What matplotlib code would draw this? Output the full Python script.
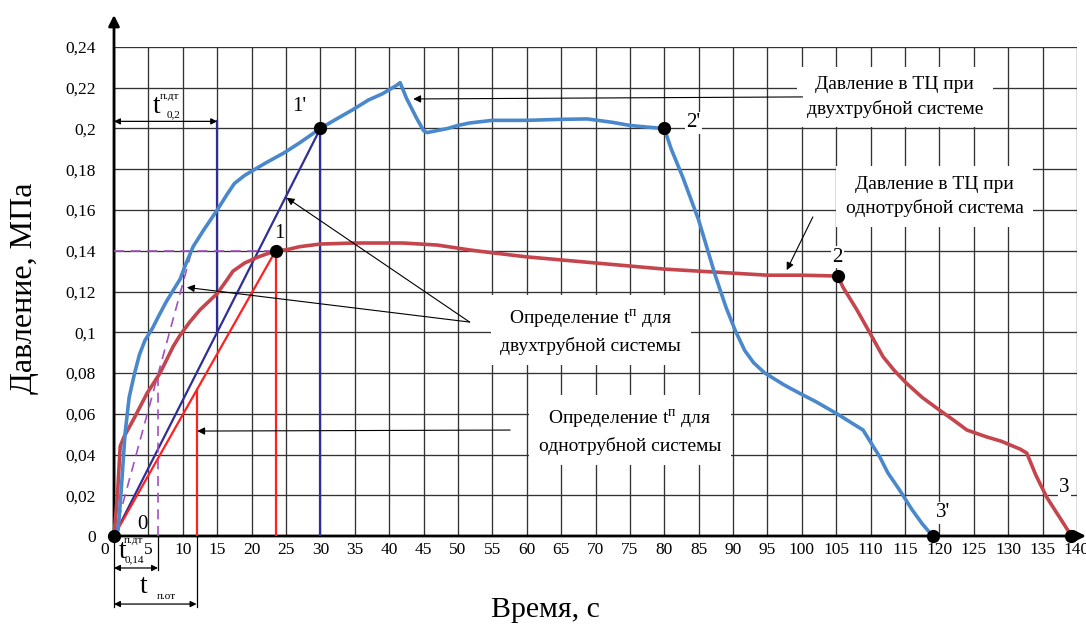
import matplotlib
matplotlib.use("Agg")
import matplotlib.pyplot as plt
from matplotlib.transforms import ScaledTranslation

plt.rcParams['font.family'] = ['Liberation Serif', 'DejaVu Serif']

# ---------------- data ----------------
# two-pipe system pressure (blue)
t_two = [0, 0.6, 1.0, 1.6, 2.2, 3.0, 3.7, 4.5, 5.6, 6.5, 7.6, 8.5, 9.6, 10.5, 11.5,
         13.0, 15.0, 16.5, 17.5, 19.0, 20.0, 22.0, 24.7, 27.0, 30.0, 32.0, 34.6, 37.0,
         39.0, 41.0, 41.6, 42.5, 44.0, 45.0, 45.5, 47.0, 48.5, 50.0, 51.7, 55.0, 60.0,
         65.0, 68.8, 72.5, 75.0, 77.5, 80.0, 81.0, 82.7, 85.0, 87.4, 89.0, 90.3, 91.7,
         93.0, 94.6, 97.5, 99.7, 102.0, 105.1, 107.0, 108.9, 110.0, 111.3, 112.5, 114.2,
         116.0, 117.5, 119.0]
p_two = [0, 0.003, 0.02, 0.05, 0.068, 0.080, 0.089, 0.096, 0.102, 0.108, 0.115, 0.120,
         0.126, 0.134, 0.142, 0.150, 0.160, 0.168, 0.173, 0.177, 0.179, 0.183, 0.188,
         0.193, 0.200, 0.204, 0.209, 0.214, 0.217, 0.221, 0.2225, 0.215, 0.205, 0.199,
         0.198, 0.199, 0.200, 0.2015, 0.2027, 0.204, 0.204, 0.2045, 0.2047, 0.203, 0.2015,
         0.2007, 0.200, 0.190, 0.176, 0.155, 0.128, 0.112, 0.101, 0.091, 0.085, 0.080,
         0.074, 0.070, 0.066, 0.060, 0.056, 0.052, 0.046, 0.039, 0.031, 0.0226, 0.013,
         0.006, 0.0]

# one-pipe system pressure (red)
t_one = [0, 0.5, 0.9, 1.5, 2.8, 4.8, 6.7, 8.6, 9.6, 11.0, 12.5, 15.0, 16.4, 17.3, 19.0,
         21.0, 23.5, 25.1, 27.0, 30.0, 35.0, 42.0, 47.0, 51.7, 55.0, 60.0, 65.0, 70.0,
         75.0, 80.0, 85.0, 90.0, 95.0, 100.0, 105.2, 106.0, 108.0, 109.9, 111.8, 113.5,
         115.2, 117.5, 120.0, 122.0, 124.0, 126.9, 129.0, 131.7, 132.7, 134.0, 135.6,
         137.5, 139.2]
p_one = [0, 0.02, 0.044, 0.049, 0.057, 0.070, 0.080, 0.093, 0.0985, 0.105, 0.111, 0.119,
         0.1256, 0.130, 0.134, 0.137, 0.140, 0.1405, 0.142, 0.1433, 0.1438, 0.1438,
         0.1428, 0.1404, 0.139, 0.137, 0.1355, 0.134, 0.1325, 0.131, 0.130, 0.129, 0.128,
         0.128, 0.1276, 0.122, 0.111, 0.0996, 0.0880, 0.081, 0.075, 0.068, 0.0618, 0.057,
         0.052, 0.0486, 0.0465, 0.0427, 0.0407, 0.030, 0.019, 0.009, 0.0]

# key points
pt_t = [0, 23.5, 30, 80, 105.2, 119.0, 139.2]
pt_p = [0, 0.140, 0.200, 0.200, 0.1276, 0.0, 0.0]
pt_labels = ["0", "1", "1'", "2'", "2", "3'", "3"]
pt_label_t = [4.1, 24.1, 27.0, 84.2, 105.2, 120.5, 138.2]
pt_label_p = [0.0054, 0.1487, 0.2106, 0.2027, 0.1369, 0.0113, 0.0236]

# construction values
t_1, p_1 = 23.5, 0.140          # point 1
t_1s, p_1s = 30.0, 0.200        # point 1'
t_half_one = 12.0               # t п.от
t_half_two = 15.0               # t 0,2 п.дт
t_014 = 6.4                     # t 0,14 п.дт
t_tan, p_tan = 11.3, 0.140      # dashed tangent end

xticks = list(range(0, 141, 5))
yticks = [0, 0.02, 0.04, 0.06, 0.08, 0.10, 0.12, 0.14, 0.16, 0.18, 0.20, 0.22, 0.24]
ytick_labels = ["0", "0,02", "0,04", "0,06", "0,08", "0,1", "0,12", "0,14", "0,16",
                "0,18", "0,2", "0,22", "0,24"]

BLUE = "#4a88cc"
RED = "#c4454c"
NAVY = "#2e2e96"
BRED = "#ff2020"
PURP = "#a24fc2"

fig = plt.figure(figsize=(10.86, 6.28), dpi=100)
ax = fig.add_axes([114 / 1086, 92 / 628, 963 / 1086, 489 / 628])
ax.set_xlim(0, 140)
ax.set_ylim(0, 0.24)
for s in ax.spines.values():
    s.set_visible(False)
ax.set_xticks(xticks)
ax.set_xticklabels([str(v) for v in xticks], fontsize=12.5)
ax.set_yticks(yticks)
ax.set_yticklabels(ytick_labels, fontsize=12.5)
ax.tick_params(length=0)
ax.tick_params(axis='y', pad=13)
ax.tick_params(axis='x', pad=4)
lab0 = ax.get_xticklabels()[0]
lab0.set_transform(lab0.get_transform() + ScaledTranslation(-9 / 100, 0, fig.dpi_scale_trans))
ax.grid(True, color="#333333", lw=0.95)
ax.set_axisbelow(True)

# axis arrows
arr = dict(arrowstyle='-|>', lw=2.0, color='black', mutation_scale=16, shrinkA=0, shrinkB=0)
ax.annotate('', xy=(0, 0.2557), xytext=(0, 0), arrowprops=arr, annotation_clip=False)
ax.annotate('', xy=(141.3, 0), xytext=(0, 0), arrowprops=arr, annotation_clip=False)

# construction lines
ax.plot([0, t_1s], [0, p_1s], color=NAVY, lw=1.6, zorder=3)
ax.plot([t_1s, t_1s], [0, p_1s], color=NAVY, lw=1.6, zorder=3)
ax.plot([t_half_two, t_half_two], [p_1s / t_1s * t_half_two, 0.2035], color=NAVY, lw=1.6, zorder=3)
ax.plot([0, t_1], [0, p_1], color=BRED, lw=1.6, zorder=3)
ax.plot([t_1, t_1], [0, p_1], color=BRED, lw=1.6, zorder=3)
ax.plot([t_half_one, t_half_one], [0, p_1 / t_1 * t_half_one], color=BRED, lw=1.6, zorder=3)
ax.plot([0, t_1], [0.14, 0.14], color=PURP, lw=1.2, ls=(0, (6, 4)), zorder=3)
ax.plot([0, t_tan], [0, p_tan], color=PURP, lw=1.2, ls=(0, (6, 4)), zorder=3)
ax.plot([t_014, t_014], [0, 0.079], color=PURP, lw=1.2, ls=(0, (6, 4)), zorder=3)

# data curves
ax.plot(t_one, p_one, color=RED, lw=2.6, zorder=4, clip_on=False)
ax.plot(t_two, p_two, color=BLUE, lw=2.6, zorder=4, clip_on=False)
ax.plot(pt_t, pt_p, 'o', color='black', ms=8.5, zorder=6, clip_on=False)

for lab, x, y in zip(pt_labels, pt_label_t, pt_label_p):
    ax.text(x, y, lab, fontsize=15, ha='center', va='center', zorder=6,
            bbox=dict(facecolor='white', edgecolor='none', pad=1.0) if lab in ("2'", "2", "3", "3'", "1'") else None)

# text boxes
tb = dict(facecolor='white', edgecolor='none', pad=7)
ax.text(113.5, 0.2155, "Давление в ТЦ при\nдвухтрубной системе", fontsize=14,
        ha='center', va='center', linespacing=1.45, bbox=tb, zorder=5)
ax.text(119.3, 0.1665, "Давление в ТЦ при\nоднотрубной система", fontsize=14,
        ha='center', va='center', linespacing=1.45, bbox=tb, zorder=5)
ax.text(69.3, 0.1006, "Определение t$^{\\mathregular{п}}$ для\nдвухтрубной системы", fontsize=14,
        ha='center', va='center', linespacing=1.45, bbox=tb, zorder=5)
ax.text(75.0, 0.0515, "Определение t$^{\\mathregular{п}}$ для\nоднотрубной системы", fontsize=14,
        ha='center', va='center', linespacing=1.45, bbox=tb, zorder=5)

# pointer arrows
pa = dict(arrowstyle='-|>', lw=0.8, color='black', mutation_scale=11, shrinkA=0, shrinkB=0)
ax.annotate('', xy=(43.5, 0.2145), xytext=(100.1, 0.2155), arrowprops=pa, zorder=5)
ax.annotate('', xy=(97.8, 0.1305), xytext=(101.6, 0.1566), arrowprops=pa, zorder=5)
ax.annotate('', xy=(25.1, 0.166), xytext=(51.7, 0.105), arrowprops=pa, zorder=5)
ax.annotate('', xy=(10.6, 0.122), xytext=(51.7, 0.105), arrowprops=pa, zorder=5)
ax.annotate('', xy=(12.1, 0.0515), xytext=(57.6, 0.052), arrowprops=pa, zorder=5)

# dimension arrows
da = dict(arrowstyle='<|-|>', lw=0.9, color='black', mutation_scale=9, shrinkA=0, shrinkB=0)
ax.annotate('', xy=(0, 0.2035), xytext=(t_half_two, 0.2035), arrowprops=da, annotation_clip=False)
ax.annotate('', xy=(0, -0.0157), xytext=(t_014, -0.0157), arrowprops=da, annotation_clip=False)
ax.annotate('', xy=(0, -0.0334), xytext=(t_half_one, -0.0334), arrowprops=da, annotation_clip=False)
for x, y2 in [(0, -0.0348), (t_014, -0.0167), (t_half_one, -0.0348)]:
    ax.plot([x, x], [0, y2], color='black', lw=0.9, clip_on=False)

ax.text(6.25, 0.2106, "t", fontsize=20, ha='center', va='center')
ax.text(8.1, 0.2158, "п.дт", fontsize=8, ha='center', va='center')
ax.text(8.6, 0.2066, "0,2", fontsize=8, ha='center', va='center')
ax.text(1.2, -0.0075, "t", fontsize=20, ha='center', va='center', clip_on=False)
ax.text(2.8, -0.0022, "п.дт", fontsize=8, ha='center', va='center', clip_on=False)
ax.text(2.9, -0.0118, "0,14", fontsize=8, ha='center', va='center', clip_on=False)
ax.text(4.3, -0.025, "t", fontsize=20, ha='center', va='center', clip_on=False)
ax.text(7.6, -0.0297, "п.от", fontsize=8, ha='center', va='center', clip_on=False)

fig.text(25 / 1086, 1 - 288 / 628, "Давление, МПа", rotation=90, fontsize=23,
         ha='center', va='center')
fig.text(545 / 1086, 1 - 610 / 628, "Время, с", fontsize=21.5, ha='center', va='center')

fig.savefig("out.png", dpi=100, facecolor='white')
